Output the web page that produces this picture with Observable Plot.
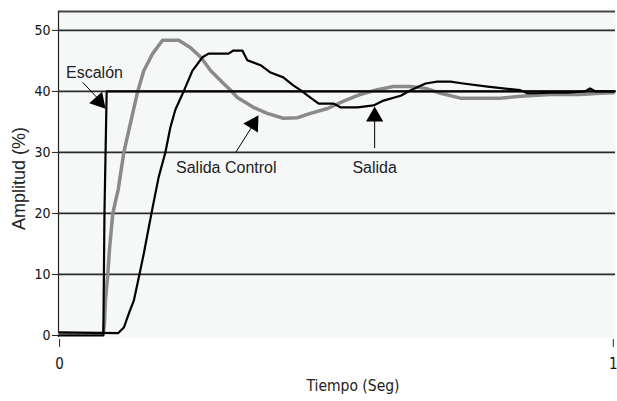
<!DOCTYPE html>
<html><head><meta charset="utf-8">
<script src="https://cdn.jsdelivr.net/npm/d3@7"></script>
<script src="https://cdn.jsdelivr.net/npm/@observablehq/plot@0.6"></script>
<style>body{margin:0;background:#fff} svg{display:block}</style>
</head><body><div id="chart"></div>
<script>
// Time (s) and amplitude (%) values
const tEscalon = [0, 0.079, 0.081, 0.085, 1.003];
const vEscalon = [0, 0, 20, 40, 40];

const tControl = [0, 0.079, 0.081, 0.083, 0.087, 0.090, 0.096, 0.106, 0.116, 0.125, 0.141, 0.152, 0.168, 0.186, 0.215, 0.236, 0.255, 0.273, 0.296, 0.309, 0.321, 0.350, 0.375, 0.404, 0.430, 0.453, 0.484, 0.513, 0.543, 0.574, 0.603, 0.634, 0.661, 0.688, 0.724, 0.796, 0.832, 0.886, 0.940, 0.977, 1.0];
const vControl = [0.3, 0.3, 2, 6, 10, 14, 20, 24, 30, 33.6, 40, 43.4, 46.2, 48.4, 48.4, 47.2, 45.6, 43.4, 41.3, 40.2, 39.0, 37.4, 36.4, 35.6, 35.7, 36.4, 37.2, 38.4, 39.5, 40.3, 40.8, 40.8, 40.5, 39.7, 38.9, 38.9, 39.2, 39.5, 39.5, 39.7, 39.8];

const tSalida = [0, 0.106, 0.116, 0.125, 0.134, 0.143, 0.152, 0.161, 0.168, 0.179, 0.191, 0.200, 0.209, 0.224, 0.240, 0.258, 0.269, 0.305, 0.314, 0.330, 0.339, 0.363, 0.381, 0.404, 0.422, 0.435, 0.453, 0.468, 0.495, 0.507, 0.538, 0.567, 0.585, 0.616, 0.634, 0.661, 0.682, 0.706, 0.729, 0.773, 0.832, 0.845, 0.863, 0.886, 0.917, 0.949, 0.958, 0.968, 1.0];
const vSalida = [0.5, 0.4, 1.3, 3.6, 5.7, 9.5, 13.4, 17.7, 21, 26, 30, 34.1, 37, 40, 43.4, 45.6, 46.2, 46.2, 46.7, 46.7, 45.1, 44.3, 43.1, 42.3, 41.0, 40.2, 39.0, 38.0, 38.0, 37.4, 37.4, 37.7, 38.5, 39.3, 40.2, 41.3, 41.6, 41.6, 41.3, 40.8, 40.2, 39.7, 39.7, 39.8, 39.8, 40.0, 40.5, 40.0, 40.0];

const yTicks = [0, 10, 20, 30, 40, 50];
const yGrid = [10, 20, 30, 40, 50];
const xTicks = [0, 1];
const xDomain = [-0.002, 1.004];
const yDomain = [-0.33, 53.1];

// Annotations: label positions, arrow tails/tips, arrowhead centres & angles
const annLabels = ["Escalón", "Salida Control", "Salida"];
const annTextX = [0.063, 0.301, 0.569];
const annTextY = [43.1, 27.4, 27.4];
const arrTailX = [0.0415, 0.318, 0.569];
const arrTailY = [41.5, 30.0, 30.7];
const arrTipX = [0.080, 0.355, 0.569];
const arrTipY = [37.8, 35.3, 36.5];
const headX = [0.0711, 0.3497, 0.569];
const headY = [38.4, 34.7, 35.9];
const headAngle = [138.5, 31.9, 0];

const control = tControl.map((t, i) => ({t, v: vControl[i]}));
const salida = tSalida.map((t, i) => ({t, v: vSalida[i]}));
const escalon = tEscalon.map((t, i) => ({t, v: vEscalon[i]}));
const ann = annLabels.map((label, i) => ({
  label, tx: annTextX[i], ty: annTextY[i],
  x1: arrTailX[i], y1: arrTailY[i], x2: arrTipX[i], y2: arrTipY[i],
  hx: headX[i], hy: headY[i], a: headAngle[i]
}));

const narrow = "'Liberation Sans Narrow', 'DejaVu Sans Condensed', 'Arial Narrow', sans-serif";
const sans = "'Liberation Sans', Arial, sans-serif";

const chart = Plot.plot({
  width: 617, height: 401,
  marginLeft: 58, marginRight: 2, marginTop: 11, marginBottom: 64,
  x: {domain: xDomain},
  y: {domain: yDomain},
  style: {background: "#fff", fontFamily: sans, color: "#111"},
  marks: [
    Plot.frame({fill: "#f6f8f8", stroke: "none"}),
    Plot.ruleY(yGrid, {stroke: "#2a2a2a", strokeWidth: 1.7}),
    Plot.ruleY([yDomain[1]], {stroke: "#444", strokeWidth: 2}),
    Plot.ruleX([xDomain[0]], {stroke: "#222", strokeWidth: 1.2}),
    Plot.axisY({ticks: yTicks, tickSize: 6, tickPadding: 2, label: null, fontFamily: narrow, fontSize: 14, stroke: "#222"}),
    Plot.axisX({ticks: xTicks, tickFormat: d3.format("d"), tickSize: 8, tickPadding: 11, dy: 2, label: null, fontFamily: narrow, fontSize: 15, stroke: "#222"}),
    Plot.line(control, {x: "t", y: "v", stroke: "#8a8a8a", strokeWidth: 3.5}),
    Plot.line(escalon, {x: "t", y: "v", stroke: "#000", strokeWidth: 2.2}),
    Plot.line(salida, {x: "t", y: "v", stroke: "#000", strokeWidth: 2.2}),
    Plot.link(ann, {x1: "x1", y1: "y1", x2: "x2", y2: "y2", stroke: "#000", strokeWidth: 1}),
    Plot.dot(ann, {x: "hx", y: "hy", symbol: "triangle", r: 6.4, rotate: "a", fill: "#000", stroke: "none"}),
    Plot.text(ann, {x: "tx", y: "ty", text: "label", fontSize: 16, fontFamily: sans, fill: "#222"}),
    Plot.text(["Amplitud (%)"], {frameAnchor: "left", textAnchor: "middle", lineAnchor: "middle", dx: -39, dy: 4, rotate: -90, fontSize: 18, fontFamily: sans, fill: "#222"}),
    Plot.text(["Tiempo (Seg)"], {frameAnchor: "bottom", textAnchor: "middle", lineAnchor: "middle", dx: 16, dy: 49, fontSize: 15.5, fontFamily: narrow, fill: "#222"})
  ]
});
document.getElementById("chart").appendChild(chart);
</script></body></html>
